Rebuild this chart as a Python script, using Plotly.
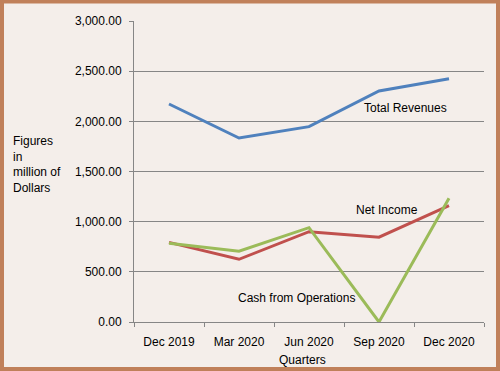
import plotly.graph_objects as go

quarters = ["Dec 2019", "Mar 2020", "Jun 2020", "Sep 2020", "Dec 2020"]
total_revenues = [2173, 1834, 1947, 2303, 2425]
net_income = [794, 625, 900, 845, 1160]
cash_from_operations = [785, 705, 940, 0, 1233]
y_ticks = [0, 500, 1000, 1500, 2000, 2500, 3000]

W, H = 500, 371
L, R, T, B = 134, 16, 21, 49
pw, ph = W - L - R, H - T - B

def px(x):
    return (x - L) / pw

def py(y):
    return (H - B - y) / ph

bg = "#F4EEEA"
border = "#C0805A"
grid = "#868686"
font = "Liberation Sans, Arial, sans-serif"

fig = go.Figure()
fig.add_trace(go.Scatter(x=quarters, y=total_revenues, mode="lines",
                         line=dict(color="#4F81BD", width=3), name="Total Revenues"))
fig.add_trace(go.Scatter(x=quarters, y=net_income, mode="lines",
                         line=dict(color="#C0504D", width=3), name="Net Income"))
fig.add_trace(go.Scatter(x=quarters, y=cash_from_operations, mode="lines",
                         line=dict(color="#9BBB59", width=3), name="Cash from Operations"))

def label(text, x, y, **kw):
    d = dict(text=text, xref="paper", yref="paper", x=px(x), y=py(y),
             xanchor="center", yanchor="middle", showarrow=False,
             font=dict(size=12))
    d.update(kw)
    return d

fig.update_layout(
    width=W, height=H,
    margin=dict(l=L, r=R, t=T, b=B, pad=0),
    paper_bgcolor=bg, plot_bgcolor=bg,
    showlegend=False,
    font=dict(family=font, size=12, color="#000000"),
    xaxis=dict(type="category", range=[-0.5, 4.5], tickson="boundaries",
               ticks="outside", ticklen=4, tickcolor=grid, showgrid=False,
               showline=True, linecolor=grid, linewidth=1,
               ticklabelstandoff=9,
               tickfont=dict(size=12), zeroline=False, fixedrange=True),
    yaxis=dict(range=[0, 3000], tickvals=y_ticks,
               ticktext=[f"{v:,.2f}" for v in y_ticks],
               ticks="outside", ticklen=4, tickcolor=grid,
               showgrid=True, gridcolor=grid, gridwidth=1,
               showline=True, linecolor=grid, linewidth=1,
               ticklabelstandoff=5,
               zeroline=False, tickfont=dict(size=12), fixedrange=True),
    shapes=[dict(type="rect", xref="paper", yref="paper",
                 x0=px(2), x1=px(498), y0=py(1.5), y1=py(369),
                 line=dict(color=border, width=4), fillcolor="rgba(0,0,0,0)",
                 layer="above")],
    annotations=[
        label("Total Revenues", 405, 108),
        label("Net Income", 386.5, 210),
        label("Cash from Operations", 296, 298),
        label("Figures<br>in<br>million of<br>Dollars", 11, 164.5,
              xanchor="left", align="left"),
        label("Quarters", 302, 360),
    ],
)

fig.write_html("out.html", config={"displayModeBar": False},
               post_script="document.body.style.margin='0';document.body.style.overflow='hidden';")
